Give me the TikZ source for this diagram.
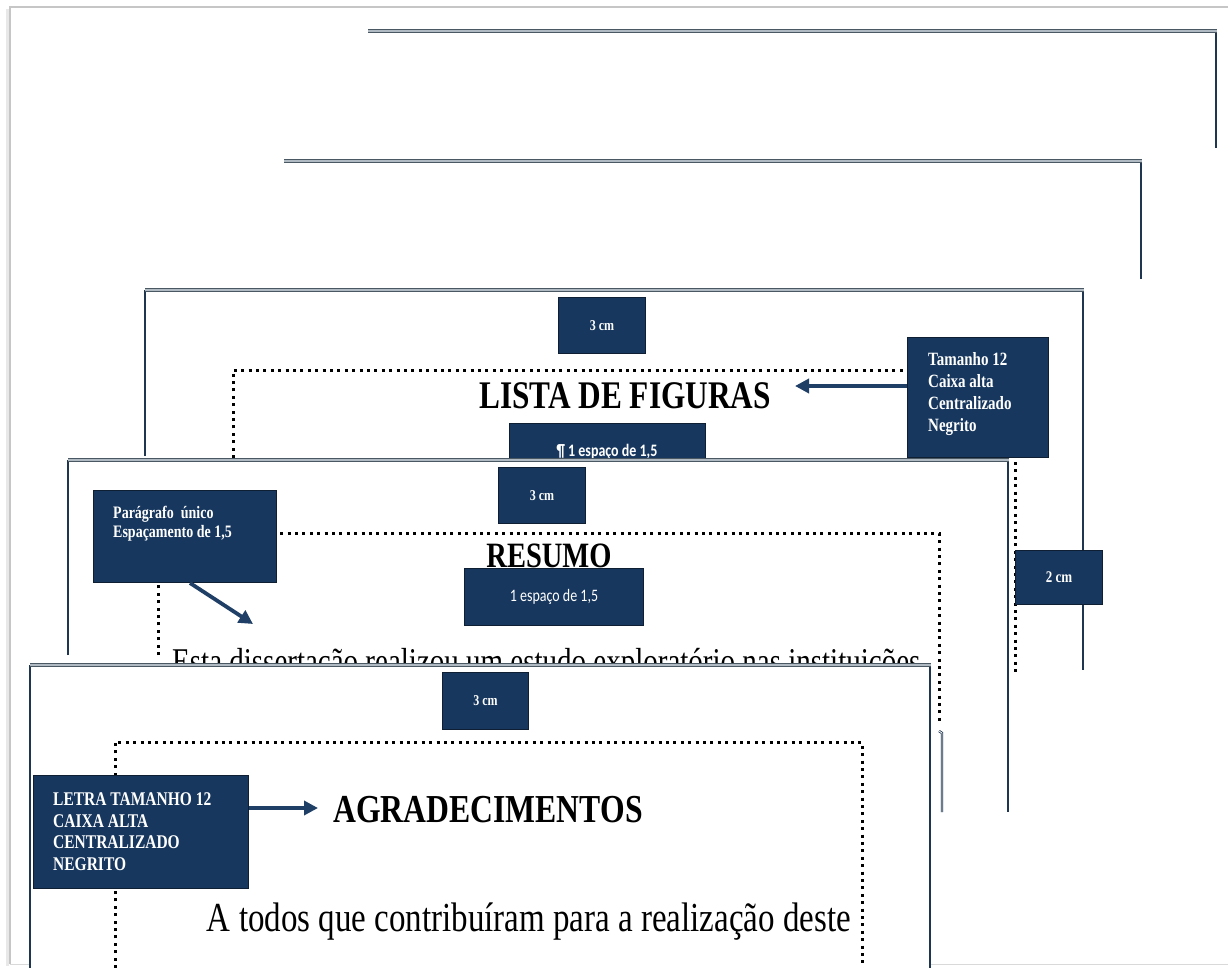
\documentclass[tikz,border=0pt]{standalone}
\usepackage{fontspec}
\setmainfont{Liberation Serif}
\newfontfamily\carl{Carlito}
\usetikzlibrary{arrows.meta,calc}
\definecolor{navy}{HTML}{17375E}
\definecolor{navyd}{HTML}{0E1F33}
\definecolor{side}{HTML}{1E3650}
\definecolor{topd}{HTML}{4A5864}
\definecolor{topl}{HTML}{B0BAC2}
\definecolor{arr}{HTML}{1F3F66}
\newcommand\vst[1]{\scalebox{1}[1.25]{#1}}
\begin{document}
\begin{tikzpicture}[x=1pt,y=-1pt,
 topedge/.style={draw=topd,line width=1.6pt,double=topl,double distance=1.3pt},
 sideedge/.style={draw=side,line width=2.6pt},
 margin/.style={draw=black,line width=3pt,dash pattern=on 3pt off 4.4pt},
 navybox/.style={fill=navy,draw=navyd,line width=1pt,inner sep=0pt,anchor=north west},
 boxtext/.style={text=white,inner sep=0pt},
 titletext/.style={inner sep=0pt},
 pointer/.style={draw=arr,line width=3.8pt,-{Triangle[length=14pt,width=14pt]}}]
\useasboundingbox (0,0) rectangle (1228,968);
% outer frame
\draw[gray!18,line width=3pt] (7,966) -- (7,9);
\draw[gray!45,line width=1.2pt] (10,964) -- (10,7) -- (1228,7);
\draw[gray!30,line width=1pt] (10,964) -- (1228,964);
% page 1
\draw[sideedge] (1216,31) -- (1216,148);
\draw[topedge] (368,31) -- (1217,31);
% page 2
\draw[sideedge] (1141,161) -- (1141,279);
\draw[topedge] (284,161) -- (1142,161);
% page 3
\fill[white] (145,290) rectangle (1083,670);
\draw[sideedge] (145,456) -- (145,290);
\draw[sideedge] (1083,290) -- (1083,670);
\draw[topedge] (145,290) -- (1084,290);
\draw[margin] (233,458) -- (233,370) -- (1015,370) -- (1015,672);
\node[navybox,minimum width=87pt,minimum height=56pt] (cmA) at (558,297) {};
\node[boxtext,font=\bfseries\fontsize{12}{14}\selectfont] (cmAt) at (cmA.center) {\vst{3 cm}};
\node[titletext,font=\bfseries\fontsize{31.3}{36}\selectfont] (lista) at (625,396) {\vst{LISTA DE FIGURAS}};
\node[navybox,minimum width=141pt,minimum height=120pt] (tam) at (907,337) {};
\node[boxtext,anchor=north west,font=\bfseries\fontsize{15}{17.5}\selectfont] (tamt) at (928,350) {\vst{\begin{tabular}{@{}l@{}}Tamanho 12\\Caixa alta\\Centralizado\\Negrito\end{tabular}}};
\coordinate (listatip) at (795,386);
\draw[pointer] (tam.west |- listatip) -- (listatip);
\node[navybox,minimum width=196pt,minimum height=45pt] (esp1) at (509,423) {};
\node[boxtext,anchor=base,font=\carl\bfseries\fontsize{14}{16}\selectfont] (esp1t) at (607,456) {\vst{¶ 1 espaço de 1,5}};
\node[navybox,minimum width=87pt,minimum height=54pt] (cmB) at (1015,550) {};
\node[boxtext,font=\bfseries\fontsize{13}{15}\selectfont] (cmBt) at (cmB.center) {\vst{2 cm}};
% page 4
\fill[white] (68,460) rectangle (1008,812);
\draw[sideedge] (68,655) -- (68,460);
\draw[sideedge] (1008,460) -- (1008,812);
\draw[topedge] (68,460) -- (1009,460);
\draw[margin] (158,655) -- (158,533) -- (939,533) -- (939,724);
\draw[draw=side,line width=0.8pt,double=white,double distance=0.8pt] (939,731) -- (942,733) -- (942,812);
\node[navybox,minimum width=87pt,minimum height=56pt] (cmC) at (498,467) {};
\node[boxtext,font=\bfseries\fontsize{12}{14}\selectfont] (cmCt) at (cmC.center) {\vst{3 cm}};
\node[navybox,minimum width=183pt,minimum height=92pt] (par) at (93,490) {};
\node[boxtext,anchor=north west,font=\bfseries\fontsize{14}{14.5}\selectfont] (part) at (113,506) {\vst{\begin{tabular}{@{}l@{}}Parágrafo~ único\\Espaçamento de 1,5\end{tabular}}};
\node[titletext,font=\bfseries\fontsize{28.5}{34}\selectfont] (resumo) at (549,556) {\vst{RESUMO}};
\node[navybox,minimum width=179pt,minimum height=57pt] (esp2) at (464,568) {};
\node[boxtext,font=\carl\fontsize{14}{16}\selectfont] (esp2t) at (esp2.center) {\vst{1 espaço de 1,5}};
\coordinate (resumotip) at (253,624);
\draw[pointer] ($(par.south west)+(97,0)$) -- (resumotip);
\node[inner sep=0pt,anchor=base west,font=\fontsize{29}{34}\selectfont] (esta) at (172,673) {\vst{Esta dissertação realizou um estudo exploratório nas instituições}};
% page 5
\fill[white] (30,665) rectangle (930,968);
\draw[sideedge] (30,968) -- (30,665);
\draw[sideedge] (930,665) -- (930,968);
\draw[topedge] (30,665) -- (931,665);
\draw[margin] (115,968) -- (115,742) -- (862,742) -- (862,968);
\node[navybox,minimum width=86pt,minimum height=57pt] (cmD) at (442,672) {};
\node[boxtext,font=\bfseries\fontsize{12}{14}\selectfont] (cmDt) at (cmD.center) {\vst{3 cm}};
\node[navybox,minimum width=215pt,minimum height=113pt] (letra) at (33,775) {};
\node[boxtext,anchor=north west,font=\bfseries\fontsize{15.5}{17.4}\selectfont] (letrat) at (53,790) {\vst{\begin{tabular}{@{}l@{}}LETRA TAMANHO 12\\CAIXA ALTA\\CENTRALIZADO\\NEGRITO\end{tabular}}};
\node[titletext,font=\bfseries\fontsize{31.7}{36}\selectfont] (agrad) at (488,810) {\vst{AGRADECIMENTOS}};
\coordinate (agradtip) at (318,808);
\draw[pointer] (letra.east |- agradtip) -- (agradtip);
\node[inner sep=0pt,font=\fontsize{33}{38}\selectfont] (todos) at (529,922) {\vst{A todos que contribuíram para a realização deste}};
\end{tikzpicture}
\end{document}
